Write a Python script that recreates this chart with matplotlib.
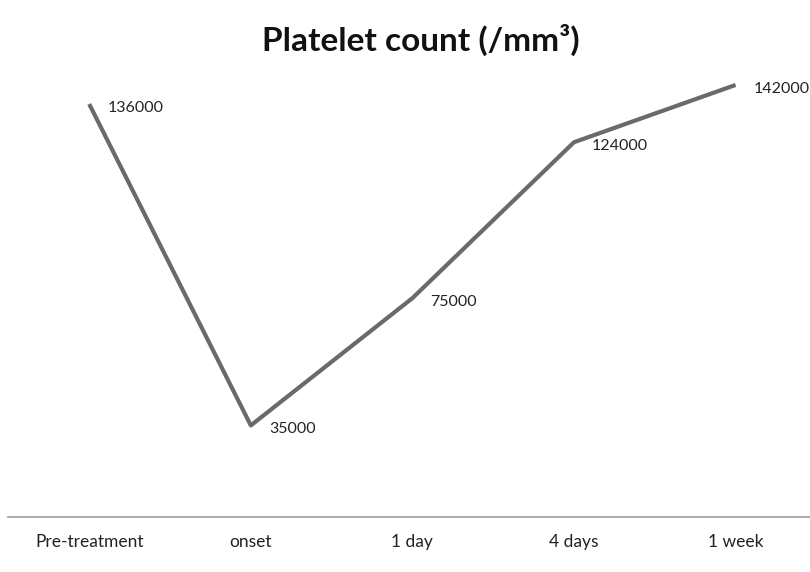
import matplotlib
matplotlib.use('Agg')
import matplotlib.pyplot as plt

# data
categories = ['Pre-treatment', 'onset', '1 day', '4 days', '1 week']
platelets = [136000, 35000, 75000, 124000, 142000]

plt.rcParams['font.family'] = ['Lato', 'DejaVu Sans']

fig = plt.figure(figsize=(8.1, 5.72), dpi=100)
ax = fig.add_axes([0.0104, 0.096, 0.9975, 0.80])

x = range(len(categories))
ax.plot(x, platelets, color='#6a6a6a', lw=3.0, solid_capstyle='butt')

for xi, v in zip(x, platelets):
    ax.annotate(str(v), (xi, v), xytext=(18, -4), textcoords='offset pixels',
                ha='left', va='center', fontsize=11.5, color='#222222',
                annotation_clip=False)

ax.set_xlim(-0.5, len(categories) - 0.5)
ax.set_ylim(6200, 150000)
ax.set_xticks(list(x))
ax.set_xticklabels(categories, fontsize=12.5, color='#222222')
ax.set_yticks([])
ax.tick_params(axis='x', length=0, pad=12)

for side in ['top', 'right', 'left']:
    ax.spines[side].set_visible(False)
ax.spines['bottom'].set_color('#a6a6a6')
ax.spines['bottom'].set_linewidth(1.3)

fig.text(0.52, 0.93, 'Platelet count (/mm³)', ha='center', va='center',
         fontsize=24, fontweight='bold', color='#111111')

fig.savefig('out.png', dpi=100)
